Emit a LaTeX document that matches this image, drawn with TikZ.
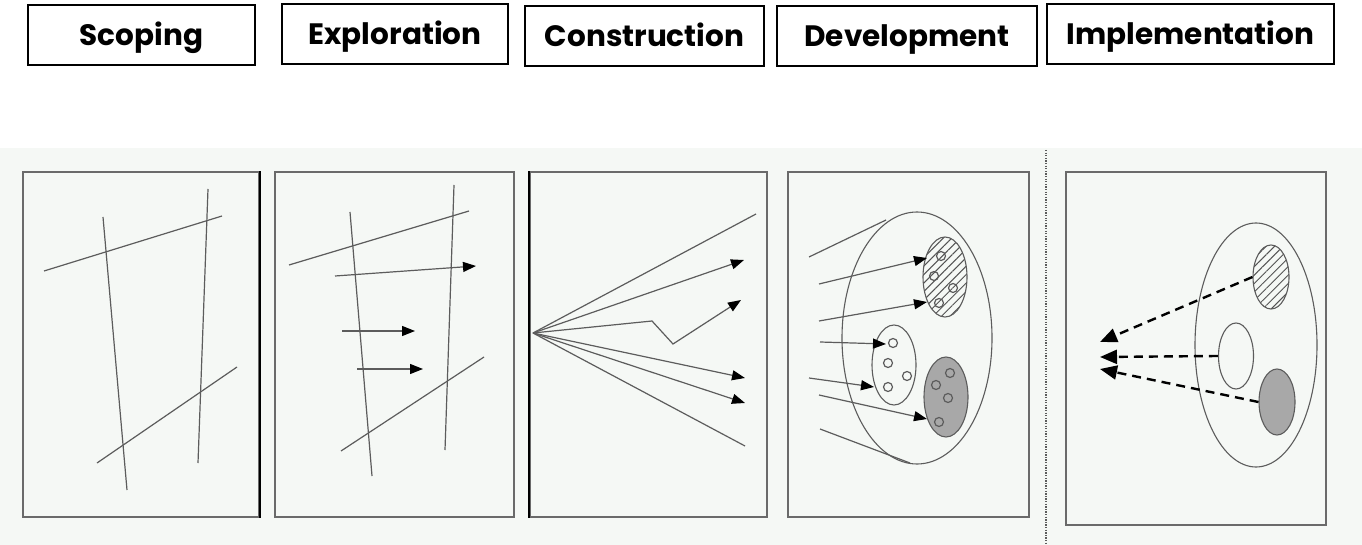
\documentclass[tikz,border=0pt]{standalone}
\usepackage{fontspec}
\setmainfont{Poppins}
\usetikzlibrary{arrows.meta,patterns.meta,shapes.geometric}
\definecolor{paper}{HTML}{F5F8F5}
\definecolor{pen}{HTML}{5C5C5C}
\definecolor{frame}{HTML}{6A6A6A}
\definecolor{shade}{HTML}{A8A8A8}
\begin{document}
\begin{tikzpicture}[x=1pt,y=-1pt,
  phase/.style={draw=black, line width=2pt, inner sep=0pt, minimum height=60pt,
    font=\fontsize{29.5}{30}\selectfont\bfseries, text height=21pt, text depth=0pt},
  panel/.style={draw=frame, line width=1.5pt, fill=paper, inner sep=0pt},
  sketch/.style={draw=pen, line width=1.2pt},
  tip/.style={-{Triangle[length=13pt,width=10pt,black]}},
  oval/.style={ellipse, draw=pen, line width=1.1pt, inner sep=0pt},
  hatch/.style={pattern={Lines[angle=45,distance=6pt,line width=1pt]}, pattern color=pen!90!black},
  dot/.style={circle, draw=pen, line width=1.2pt, inner sep=0pt, minimum size=9pt},
  feed/.style={draw=black, line width=2.4pt, dash pattern=on 9pt off 6pt,
    -{Triangle[length=17pt,width=14pt]}},
]
\useasboundingbox (0,0) rectangle (1362,545);

% phase titles
\node[phase, minimum width=227pt] (scoping) at (141.5,35) {Scoping};
\node[phase, minimum width=226pt] (exploration) at (395,34.5) {Exploration};
\node[phase, minimum width=239pt] (construction) at (644.5,36) {Construction};
\node[phase, minimum width=260pt] (development) at (907,36) {Development};
\node[phase, minimum width=287pt] (implementation) at (1190.5,34) {Implementation};

% lower band
\fill[paper] (0,148) rectangle (1362,545);
\draw[pen, line width=1.2pt, dash pattern=on 1.3pt off 1.3pt] (1046,150) -- (1046,545);

% frames
\node[panel, minimum width=236pt, minimum height=345pt] (p1) at (141,344.5) {};
\node[panel, minimum width=239pt, minimum height=345pt] (p2) at (394.5,344.5) {};
\node[panel, minimum width=237pt, minimum height=345pt] (p3) at (648.5,344.5) {};
\node[panel, minimum width=241pt, minimum height=345pt] (p4) at (908.5,344.5) {};
\node[panel, minimum width=260pt, minimum height=353pt] (p5) at (1196,348.5) {};
\draw[black, line width=1.6pt] (p1.north east) -- (p1.south east);
\draw[black, line width=1.6pt] (p3.north west) -- (p3.south west);

% scoping: loose frame of lines
\draw[sketch] (103,217) -- (127,490);
\draw[sketch] (208,189) -- (198,463);
\draw[sketch] (44,271) -- (222,216);
\draw[sketch] (97,463) -- (237,367);

% exploration: frame with probes
\draw[sketch] (350,212) -- (372,476);
\draw[sketch] (454,185) -- (445,450);
\draw[sketch] (289,265) -- (469,211);
\draw[sketch] (341,451) -- (484,357);
\draw[sketch, tip] (335,276) -- (476,266);
\draw[sketch, tip] (342,331) -- (415,331);
\draw[sketch, tip] (357,369) -- (423,369);

% construction: fan of directions
\coordinate (o) at (533,333);
\draw[sketch] (o) -- (756,214);
\draw[sketch, tip] (o) -- (744,260);
\draw[sketch, tip] (o) -- (652,321) -- (673,344) -- (741,300);
\draw[sketch, tip] (o) -- (745,378);
\draw[sketch, tip] (o) -- (745,403);
\draw[sketch] (o) -- (745,446);

% development: clusters inside the field
\node[oval, minimum width=150pt, minimum height=252pt] (field) at (917,338) {};
\node[oval, hatch, minimum width=44pt, minimum height=80pt] (ha) at (945,277) {};
\node[oval, minimum width=44pt, minimum height=80pt] (wa) at (894,365) {};
\node[oval, fill=shade, minimum width=44pt, minimum height=80pt] (ga) at (946,397) {};
\foreach \p in {(941,256),(934,276),(953,288),(939,303),
                (893,343),(888,363),(907,376),(888,387),
                (950,373),(936,385),(948,398),(939,422)}
  \node[dot] at \p {};
\draw[sketch] (809,257) -- (886,220);
\draw[sketch, tip] (819,284) -- (927,258);
\draw[sketch, tip] (819,321) -- (927,302);
\draw[sketch, tip] (820,342) -- (886,344);
\draw[sketch, tip] (809,378) -- (874,387);
\draw[sketch, tip] (819,395) -- (927,419);
\draw[sketch] (820,429) -- (910,463);

% implementation: results fed back out
\node[oval, minimum width=122pt, minimum height=244pt] (field2) at (1256,345) {};
\node[oval, hatch, minimum width=36pt, minimum height=64pt] (hb) at (1271,277) {};
\node[oval, minimum width=35pt, minimum height=66pt] (wb) at (1236,356) {};
\node[oval, fill=shade, minimum width=36pt, minimum height=66pt] (gb) at (1277,402) {};
\coordinate (t1) at (1100,342);
\coordinate (t2) at (1100,357);
\coordinate (t3) at (1100,369);
\draw[feed] (hb.west) -- (t1);
\draw[feed] (wb.west) -- (t2);
\draw[feed] (gb.west) -- (t3);
\end{tikzpicture}
\end{document}
